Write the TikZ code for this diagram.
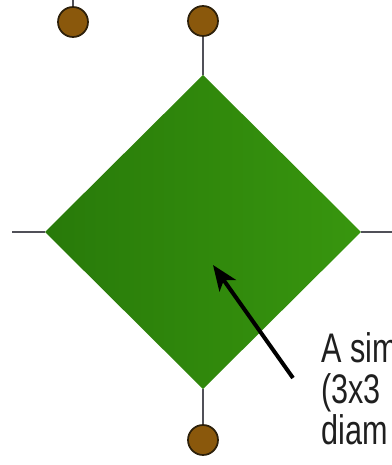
\documentclass[tikz,border=0pt]{standalone}
\usepackage{fontspec}
\setmainfont{Liberation Sans}[FakeStretch=0.74]
\usetikzlibrary{shapes.geometric, arrows.meta, positioning}
\definecolor{leafdark}{RGB}{40,122,10}
\definecolor{leaflight}{RGB}{56,150,14}
\definecolor{nutfill}{RGB}{138,88,12}
\definecolor{nutdraw}{RGB}{45,32,10}
\definecolor{stem}{RGB}{80,80,88}

\begin{document}
\begin{tikzpicture}[x=0.75pt, y=0.75pt,
        tile/.style={diamond, left color=leafdark, right color=leaflight, draw=none, minimum width=237pt, minimum height=235.5pt, inner sep=0pt, outer sep=0pt},
        nut/.style={circle, fill=nutfill, draw=nutdraw, line width=1.3pt, minimum size=22.5pt, inner sep=0pt},
        stemline/.style={stem, line width=1.6pt},
        pointer/.style={-{Stealth[length=19pt, width=15pt, inset=5pt]}, line width=3pt, black},
        note/.style={anchor=north west, align=left, inner sep=0pt, font=\fontsize{31}{30.8}\selectfont, text=black!88}
    ]
        \clip (0,0) rectangle (392,465);
        \node[tile] (dia) at (203,233) {};
        \node[nut] (topdot) at (203,444) {};
        \node[nut] (leftdot) at (73,443) {};
        \node[nut] (botdot) at (203,25) {};
        \coordinate (westend) at (12,233);
        \coordinate (eastend) at (392,233);
        \coordinate (leftup) at (73,465);
        \coordinate (tail) at (293,87);
        \coordinate (tip) at (213,200);
        \draw[stemline] (topdot) -- (dia.north);
        \draw[stemline] (dia.south) -- (botdot);
        \draw[stemline] (westend) -- (dia.west);
        \draw[stemline] (dia.east) -- (eastend);
        \draw[stemline] (leftdot) -- (leftup);
        \draw[pointer] (tail) -- (tip);
        \node[note] (label) at (321,133) {A sim\\(3x3\\diam};
    \end{tikzpicture}
\end{document}
